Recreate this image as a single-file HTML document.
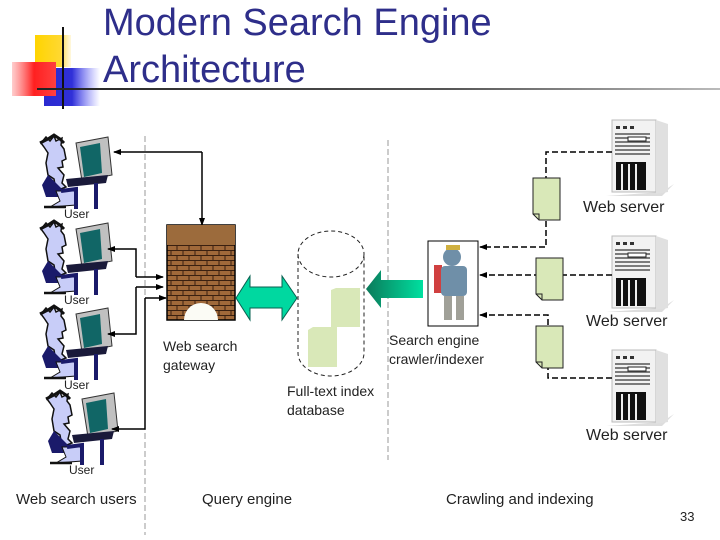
<!DOCTYPE html>
<html><head><meta charset="utf-8"><style>
body{margin:0;background:#fff;}
svg{display:block;font-family:"Liberation Sans",sans-serif;}
</style></head><body>
<svg width="720" height="540" viewBox="0 0 720 540" xmlns="http://www.w3.org/2000/svg">
<defs>
<linearGradient id="red" x1="0" x2="1"><stop offset="0" stop-color="#ff5a5a" stop-opacity="0.3"/><stop offset="0.5" stop-color="#ff2020"/><stop offset="1" stop-color="#ff4040"/></linearGradient>
<linearGradient id="blue" x1="0" x2="1"><stop offset="0" stop-color="#2a2ad0"/><stop offset="0.5" stop-color="#3030d8"/><stop offset="1" stop-color="#6060ff" stop-opacity="0"/></linearGradient>
<linearGradient id="yel" x1="0" x2="1"><stop offset="0" stop-color="#ffd400"/><stop offset="0.7" stop-color="#ffd830"/><stop offset="1" stop-color="#ffe890" stop-opacity="0.3"/></linearGradient>
<linearGradient id="hl" x1="0" x2="1"><stop offset="0" stop-color="#222"/><stop offset="0.6" stop-color="#555"/><stop offset="1" stop-color="#bbb"/></linearGradient>
<linearGradient id="garr" x1="0" x2="1"><stop offset="0" stop-color="#0a7a5a"/><stop offset="1" stop-color="#00e0a0"/></linearGradient>
<pattern id="brick" width="12" height="10" patternUnits="userSpaceOnUse">
<rect width="12" height="10" fill="#a0693a"/>
<path d="M0 0.5H12M0 5.5H12M3 0V5M9 5V10" stroke="#3a2010" stroke-width="1"/>
</pattern>
<g id="user">
<path d="M5 8 L10 2 L14 6 L18 1 L20 6 L26 3 L25 10 L28 14 L30 24 L26 26 L27 32 L22 33 L28 40 L26 48 L30 52 L20 56 L18 44 L12 40 L10 28 L12 18 L8 12 Z" fill="#c8cdf8" stroke="#111" stroke-width="1.5"/>
<path d="M4 8 L12 4 L18 0 L24 4 L28 8" fill="none" stroke="#111" stroke-width="3"/>
<path d="M12 40 L6 50 L10 62 L22 62 L28 56 L20 48 Z" fill="#1a1a6a"/>
<path d="M20 56 L40 56 L40 70 L14 72 L24 66 Z" fill="#c8cdf8" stroke="#111"/>
<path d="M8 72 L30 72" stroke="#111" stroke-width="2.5"/>
<path d="M25 56 L40 54 L40 74" fill="none" stroke="#1a1a6a" stroke-width="4"/>
<path d="M40 8 L72 2 L76 40 L46 46 Z" fill="#c0c0c0" stroke="#333"/>
<path d="M44 12 L64 8 L66 38 L48 42 Z" fill="#116666"/>
<path d="M30 44 L72 40 L70 48 L32 52 Z" fill="#1a1a3a"/>
<path d="M60 48 L60 74" stroke="#1a1a6a" stroke-width="4"/>
</g>
<g id="server">
<path d="M-6 76 L50 76 L62 64 L50 72 Z" fill="#ddd"/>
<rect x="0" y="0" width="44" height="72" fill="#f2f2f2" stroke="#bbb"/>
<path d="M44 0 L56 4 L56 72 L44 74 Z" fill="#e0e0e0"/>
<rect x="4" y="6" width="4" height="3" fill="#333"/><rect x="11" y="6" width="4" height="3" fill="#333"/><rect x="18" y="6" width="4" height="3" fill="#333"/>
<path d="M3 14H38M3 18H38M3 22H38M3 26H38M3 30H38M3 34H38" stroke="#555" stroke-width="1.5"/>
<rect x="16" y="17" width="18" height="4" fill="#fff" stroke="#222"/>
<rect x="4" y="42" width="30" height="28" fill="#111"/>
<path d="M10 44V70M17 44V70M24 44V70" stroke="#eee" stroke-width="2"/>
</g>
<g id="doc">
<path d="M0 0 H27 V42 H6 L0 36 Z" fill="#d9e8b8" stroke="#222"/>
<path d="M0 36 L6 36 L6 42" fill="none" stroke="#222"/>
</g>
<marker id="ah" markerWidth="8" markerHeight="8" refX="7" refY="4" orient="auto" markerUnits="userSpaceOnUse"><path d="M0 1 L8 4 L0 7 Z" fill="#000"/></marker>
</defs>

<rect x="35" y="35" width="36" height="32" fill="url(#yel)"/>
<rect x="44" y="68" width="56" height="38" fill="url(#blue)"/>
<rect x="12" y="62" width="44" height="34" fill="url(#red)"/>
<line x1="63" y1="27" x2="63" y2="109" stroke="#111" stroke-width="2"/>
<rect x="37" y="88" width="683" height="2" fill="url(#hl)"/>
<text x="103" y="35" font-size="38" fill="#2e2e8a">Modern Search Engine</text>
<text x="103" y="82" font-size="38" fill="#2e2e8a">Architecture</text>

<line x1="145" y1="136" x2="145" y2="535" stroke="#999" stroke-dasharray="6,3"/>
<line x1="388" y1="140" x2="388" y2="460" stroke="#999" stroke-dasharray="6,3"/>

<use href="#user" x="36" y="135"/>
<use href="#user" x="36" y="221"/>
<use href="#user" x="36" y="306"/>
<use href="#user" x="42" y="391"/>
<g font-size="12" fill="#222">
<text x="64" y="218">User</text><text x="64" y="304">User</text><text x="64" y="389">User</text><text x="69" y="474">User</text>
</g>

<g fill="none" stroke="#000" stroke-width="1.5">
<path d="M202 152 H114" marker-end="url(#ah)"/>
<path d="M202 152 V225" marker-end="url(#ah)"/>
<path d="M136 277 V249 H108" marker-end="url(#ah)"/>
<path d="M136 277 H163" marker-end="url(#ah)"/>
<path d="M136 287 V334 H108" marker-end="url(#ah)"/>
<path d="M136 287 H163" marker-end="url(#ah)"/>
<path d="M145 298 V429 H112" marker-end="url(#ah)"/>
<path d="M145 298 H166" marker-end="url(#ah)"/>
</g>

<rect x="167" y="225" width="68" height="95" fill="url(#brick)" stroke="#000" stroke-width="1.5"/>
<rect x="167" y="225" width="68" height="20" fill="#9c6b3c"/>
<path d="M184 320 A17 17 0 0 1 218 320 Z" fill="#fbfbf5"/>
<text x="163" y="351" font-size="14" fill="#222">Web search</text>
<text x="163" y="370" font-size="14" fill="#222">gateway</text>

<path d="M236 298 L250 276 V287 H282 V276 L297 298 L282 320 V308 H250 V320 Z" fill="#00d8a0" stroke="#0a6050" stroke-width="1"/>

<path d="M298 254 V353 A33 23 0 0 0 364 353 V254" fill="none" stroke="#222" stroke-dasharray="4,3"/>
<ellipse cx="331" cy="254" rx="33" ry="23" fill="none" stroke="#222" stroke-dasharray="4,3"/>
<path d="M331 290 L336 288 H360 V327 H331 Z" fill="#d9e8b8"/>
<path d="M308 330 L313 327 H337 V367 H308 Z" fill="#d9e8b8"/>
<text x="287" y="396" font-size="14" fill="#222">Full-text index</text>
<text x="287" y="415" font-size="14" fill="#222">database</text>

<path d="M366 289 L381 270 V280 H423 V298 H381 V308 Z" fill="url(#garr)"/>

<rect x="428" y="241" width="50" height="85" fill="#fff" stroke="#000"/>
<rect x="434" y="265" width="8" height="28" fill="#d04040"/>
<circle cx="452" cy="257" r="9" fill="#6f8fa8"/>
<rect x="446" y="245" width="14" height="5" fill="#d0b040"/>
<rect x="441" y="266" width="26" height="30" rx="4" fill="#6f8fa8"/>
<rect x="444" y="296" width="8" height="24" fill="#a0a098"/><rect x="456" y="296" width="8" height="24" fill="#a0a098"/>
<text x="389" y="345" font-size="14" fill="#222">Search engine</text>
<text x="389" y="364" font-size="14" fill="#222">crawler/indexer</text>

<use href="#server" x="612" y="120"/>
<use href="#server" x="612" y="236"/>
<use href="#server" x="612" y="350"/>
<g font-size="16" fill="#222">
<text x="583" y="212">Web server</text><text x="586" y="326">Web server</text><text x="586" y="440">Web server</text>
</g>

<g fill="none" stroke="#000" stroke-width="1.5" stroke-dasharray="6,3">
<path d="M612 152 H546 V247 H480" marker-end="url(#ah)"/>
<path d="M612 275 H480" marker-end="url(#ah)"/>
<path d="M612 378 H548 V315 H480" marker-end="url(#ah)"/>
</g>
<use href="#doc" x="533" y="178"/>
<use href="#doc" x="536" y="258"/>
<use href="#doc" x="536" y="326"/>

<g font-size="15" fill="#222">
<text x="16" y="504">Web search users</text>
<text x="202" y="504">Query engine</text>
<text x="446" y="504">Crawling and indexing</text>
</g>
<text x="680" y="521" font-size="13" fill="#222">33</text>
</svg>
</body></html>
